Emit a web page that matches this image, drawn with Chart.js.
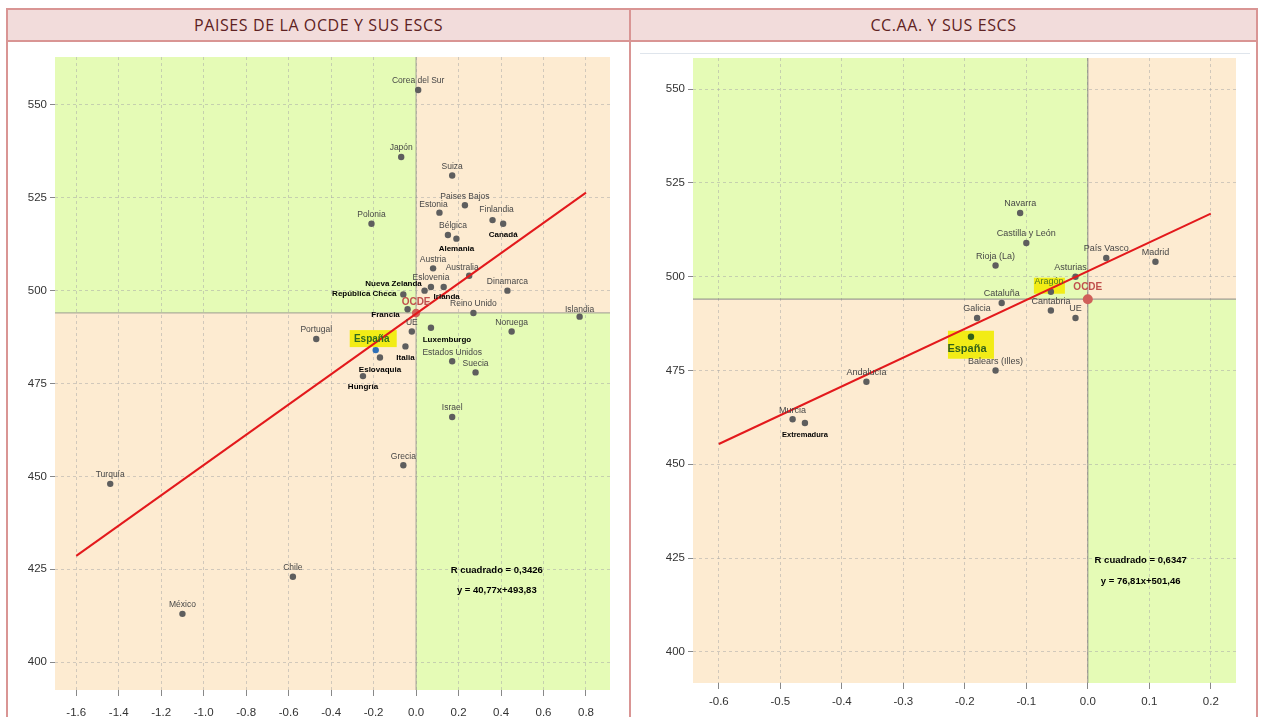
<!DOCTYPE html>
<html>
<head>
<meta charset="utf-8">
<script src="https://cdn.jsdelivr.net/npm/chart.js@4.4.0/dist/chart.umd.min.js"></script>
<style>
  body { margin: 0; background: #fff; width: 1261px; height: 717px; overflow: hidden; position: relative; font-family: Arial, "Liberation Sans", sans-serif; }
  .linea { position: absolute; background: #d99594; }
  .cab { position: absolute; top: 10px; height: 30px; background: #f2dcdb; color: #5e2222;
         font: 16px "Open Sans", "Noto Sans", sans-serif; letter-spacing: 0.6px; line-height: 30px; text-align: center; }
  canvas { position: absolute; }
</style>
</head>
<body>
<div class="cab" style="left:8px;width:621px">PAISES DE LA OCDE Y SUS ESCS</div>
<div class="cab" style="left:631px;width:625px">CC.AA. Y SUS ESCS</div>
<div class="linea" style="left:6px;top:8px;width:1252px;height:2px"></div>
<div class="linea" style="left:6px;top:40px;width:1252px;height:2px"></div>
<div class="linea" style="left:6px;top:8px;width:2px;height:709px"></div>
<div class="linea" style="left:629px;top:8px;width:2px;height:709px"></div>
<div class="linea" style="left:1256px;top:8px;width:2px;height:709px"></div>
<div style="position:absolute;left:640px;top:53px;width:610px;height:1px;background:#dfe5ec"></div>
<canvas id="paises" width="620" height="674" style="left:8px;top:43px"></canvas>
<canvas id="ccaa" width="620" height="674" style="left:634px;top:43px"></canvas>
<script>
// DATOS - PAISES DE LA OCDE
const paises = ['Corea del Sur', 'Japón', 'Suiza', 'Paises Bajos', 'Estonia', 'Finlandia', 'Canadá', 'Polonia',
  'Bélgica', 'Alemania', 'Austria', 'Australia', 'Eslovenia', 'Irlanda', 'Nueva Zelanda', 'República Checa',
  'Dinamarca', 'Francia', 'OCDE', 'Reino Unido', 'Islandia', 'Noruega', 'Portugal', 'UE', 'Luxemburgo', 'Italia',
  'España', 'Estados Unidos', 'Eslovaquia', 'Suecia', 'Hungría', 'Israel', 'Grecia', 'Turquía', 'Chile', 'México'];
const escsPaises = [0.01, -0.07, 0.17, 0.23, 0.11, 0.36, 0.41, -0.21,
  0.15, 0.19, 0.08, 0.25, 0.07, 0.13, 0.04, -0.06,
  0.43, -0.04, 0.00, 0.27, 0.77, 0.45, -0.47, -0.02, 0.07, -0.05,
  -0.19, 0.17, -0.17, 0.28, -0.25, 0.17, -0.06, -1.44, -0.58, -1.10];
const notaPaises = [554, 536, 531, 523, 521, 519, 518, 518,
  515, 514, 506, 504, 501, 501, 500, 499,
  500, 495, 494, 494, 493, 489, 487, 489, 490, 485,
  484, 481, 482, 478, 477, 466, 453, 448, 423, 413];
const rectaPaises = [[-1.6, 428.6], [0.8, 526.4]];
const xTicksPaises = [-1.6, -1.4, -1.2, -1.0, -0.8, -0.6, -0.4, -0.2, 0.0, 0.2, 0.4, 0.6, 0.8];

// DATOS - COMUNIDADES AUTONOMAS
const ccaa = ['Navarra', 'Castilla y León', 'Rioja (La)', 'País Vasco', 'Madrid', 'Asturias', 'Aragón', 'OCDE',
  'Cataluña', 'Cantabria', 'UE', 'Galicia', 'España', 'Balears (Illes)', 'Andalucía', 'Murcia', 'Extremadura'];
const escsCcaa = [-0.11, -0.10, -0.15, 0.03, 0.11, -0.02, -0.06, 0.00,
  -0.14, -0.06, -0.02, -0.18, -0.19, -0.15, -0.36, -0.48, -0.46];
const notaCcaa = [517, 509, 503, 505, 504, 500, 496, 494,
  493, 491, 489, 489, 484, 475, 472, 462, 461];
const rectaCcaa = [[-0.6, 455.4], [0.2, 516.8]];
const xTicksCcaa = [-0.6, -0.5, -0.4, -0.3, -0.2, -0.1, 0.0, 0.1, 0.2];

const yTicks = [400, 425, 450, 475, 500, 525, 550];
const corteOCDE = 494;

const VERDE = '#e5fbb6';
const NARANJA = '#fdebd1';
const AMARILLO = '#f2ec16';
const fuenteTicks = {family: 'Arial, "Liberation Sans"', size: 11.5};

// FONDO POR CUADRANTES, LINEAS DE CORTE Y ETIQUETAS
const cuadrantes = {
  id: 'cuadrantes',
  beforeDraw(chart, args, o) {
    const {ctx, chartArea: a, scales: {x, y}} = chart;
    const cx = x.getPixelForValue(0), cy = y.getPixelForValue(o.corte);
    ctx.save();
    ctx.fillStyle = VERDE;
    ctx.fillRect(a.left, a.top, cx - a.left, cy - a.top);
    ctx.fillRect(cx, cy, a.right - cx, a.bottom - cy);
    ctx.fillStyle = NARANJA;
    ctx.fillRect(cx, a.top, a.right - cx, cy - a.top);
    ctx.fillRect(a.left, cy, cx - a.left, a.bottom - cy);
    ctx.restore();
  },
  beforeDatasetsDraw(chart, args, o) {
    const {ctx, chartArea: a, scales: {x, y}} = chart;
    const cx = x.getPixelForValue(0), cy = y.getPixelForValue(o.corte);
    ctx.save();
    ctx.strokeStyle = o.colorCorte;
    ctx.lineWidth = 1.2;
    ctx.beginPath();
    ctx.moveTo(a.left, cy); ctx.lineTo(a.right, cy);
    ctx.moveTo(cx, a.top); ctx.lineTo(cx, a.bottom);
    ctx.stroke();
    // cajas amarillas
    ctx.fillStyle = AMARILLO;
    o.cajas.forEach(c => {
      const i = o.nombres.indexOf(c.nombre);
      const px = x.getPixelForValue(o.xs[i]), py = y.getPixelForValue(o.ys[i]);
      ctx.fillRect(px + c.r[0], py + c.r[1], c.r[2], c.r[3]);
    });
    ctx.restore();
  },
  afterDatasetsDraw(chart, args, o) {
    const {ctx, scales: {x, y}} = chart;
    ctx.save();
    ctx.textAlign = 'center';
    ctx.textBaseline = 'middle';
    o.nombres.forEach((n, i) => {
      const px = x.getPixelForValue(o.xs[i]), py = y.getPixelForValue(o.ys[i]);
      const e = o.etiquetas[n] || {};
      const d = e.d || [0, -9];
      ctx.font = e.font || o.fuente;
      ctx.fillStyle = e.color || o.color;
      ctx.fillText(n, px + d[0], py + d[1]);
    });
    ctx.font = 'bold 9.5px Arial, "Liberation Sans"';
    ctx.fillStyle = '#000';
    o.textos.forEach(t => ctx.fillText(t.t, x.getPixelForValue(t.x), y.getPixelForValue(t.y)));
    ctx.restore();
  }
};

function grafico(id, nombres, xs, ys, recta, xTicks, xmin, xmax, ymin, ymax, ancho, alto, pad, extra) {
  const colorPunto = c => {
    const n = nombres[c.dataIndex];
    if (n === 'España') return extra.colorEspana;
    if (n === 'OCDE') return '#d0605a';
    return '#5e5e5e';
  };
  const radioPunto = c => nombres[c.dataIndex] === 'OCDE' ? extra.radioOCDE : 3.2;
  return new Chart(document.getElementById(id), {
    type: 'scatter',
    data: {
      datasets: [{
        type: 'line',
        data: recta.map(p => ({x: p[0], y: p[1]})),
        borderColor: '#e3191c',
        borderWidth: 2,
        pointRadius: 0,
        showLine: true,
        fill: false
      }, {
        data: xs.map((v, i) => ({x: v, y: ys[i]})),
        pointRadius: radioPunto,
        pointBackgroundColor: colorPunto,
        pointBorderWidth: 0,
        pointBorderColor: colorPunto
      }]
    },
    options: {
      responsive: false,
      animation: false,
      events: [],
      layout: {padding: pad},
      plugins: {
        legend: {display: false},
        tooltip: {enabled: false},
        cuadrantes: {
          corte: corteOCDE, nombres, xs, ys,
          colorCorte: extra.colorCorte,
          fuente: extra.fuente, color: '#474747',
          etiquetas: extra.etiquetas, cajas: extra.cajas, textos: extra.textos
        }
      },
      scales: {
        x: {
          type: 'linear', min: xmin, max: xmax,
          afterBuildTicks(s) { s.ticks = xTicks.map(v => ({value: v})); },
          afterFit(s) { s.height = alto; },
          ticks: {autoSkip: false, maxRotation: 0, color: '#333', font: fuenteTicks, padding: extra.padX,
                  callback: v => v.toFixed(1)},
          grid: {color: 'rgba(165,165,165,0.5)', tickColor: '#888', tickLength: 6, tickBorderDash: []},
          border: {display: false, dash: [3, 3]}
        },
        y: {
          type: 'linear', min: ymin, max: ymax,
          afterBuildTicks(s) { s.ticks = yTicks.map(v => ({value: v})); },
          afterFit(s) { s.width = ancho; },
          ticks: {color: '#333', font: fuenteTicks, padding: 3},
          grid: {color: 'rgba(165,165,165,0.5)', tickColor: '#888', tickLength: 5, tickBorderDash: []},
          border: {display: false, dash: [3, 3]}
        }
      }
    },
    plugins: [cuadrantes]
  });
}

const negrita = 'bold 8px Arial, "Liberation Sans"';

grafico('paises', paises, escsPaises, notaPaises, rectaPaises, xTicksPaises,
  -1.70, 0.913, 392.5, 562.9, 47, 27, {top: 14, right: 18, bottom: 0, left: 0}, {
    colorEspana: '#2e6fb7', radioOCDE: 4.2, colorCorte: 'rgba(150,150,140,0.75)', padX: 10,
    fuente: '8.5px Arial, "Liberation Sans"',
    etiquetas: {
      'Estonia': {d: [-6, -8]}, 'Finlandia': {d: [4, -10]}, 'Canadá': {d: [0, 11], font: negrita, color: '#000'},
      'Bélgica': {d: [5, -9]}, 'Alemania': {d: [0, 10], font: negrita, color: '#000'}, 'Australia': {d: [-7, -8]},
      'Nueva Zelanda': {d: [-31, -7], font: negrita, color: '#000'},
      'República Checa': {d: [-39, -1], font: negrita, color: '#000'},
      'Irlanda': {d: [3, 10], font: negrita, color: '#000'},
      'OCDE': {d: [0, -11], font: 'bold 10px Arial, "Liberation Sans"', color: '#c0504d'},
      'Francia': {d: [-22, 6], font: negrita, color: '#000'},
      'Luxemburgo': {d: [16, 12], font: negrita, color: '#000'},
      'Italia': {d: [0, 11], font: negrita, color: '#000'},
      'España': {d: [-4, -11], font: 'bold 10px Arial, "Liberation Sans"', color: '#2f6b1f'},
      'Eslovaquia': {d: [0, 12], font: negrita, color: '#000'},
      'Hungría': {d: [0, 11], font: negrita, color: '#000'},
      'Islandia': {d: [0, -7]}
    },
    cajas: [{nombre: 'España', r: [-26, -20, 47, 17]}],
    textos: [{x: 0.38, y: 424.8, t: 'R cuadrado = 0,3426'}, {x: 0.38, y: 419.4, t: 'y = 40,77x+493,83'}]
  });

grafico('ccaa', ccaa, escsCcaa, notaCcaa, rectaCcaa, xTicksCcaa,
  -0.642, 0.241, 391.7, 558.3, 59, 34, {top: 15, right: 18, bottom: 0, left: 0}, {
    colorEspana: '#2f5f1a', radioOCDE: 5, colorCorte: 'rgba(120,120,120,0.7)', padX: 6,
    fuente: '9px Arial, "Liberation Sans"',
    etiquetas: {
      'Asturias': {d: [-5, -9]},
      'Aragón': {d: [-2, -10], color: '#4f7a1e'},
      'OCDE': {d: [0, -12], font: 'bold 10px Arial, "Liberation Sans"', color: '#c0504d'},
      'España': {d: [-4, 12], font: 'bold 11px Arial, "Liberation Sans"', color: '#2f5f1a'},
      'Extremadura': {d: [0, 12], font: 'bold 7.5px Arial, "Liberation Sans"', color: '#000'}
    },
    cajas: [{nombre: 'España', r: [-23, -6, 46, 28]}, {nombre: 'Aragón', r: [-17, -14, 31, 16]}],
    textos: [{x: 0.086, y: 424.5, t: 'R cuadrado = 0,6347'}, {x: 0.086, y: 418.9, t: 'y = 76,81x+501,46'}]
  });
</script>
</body>
</html>
